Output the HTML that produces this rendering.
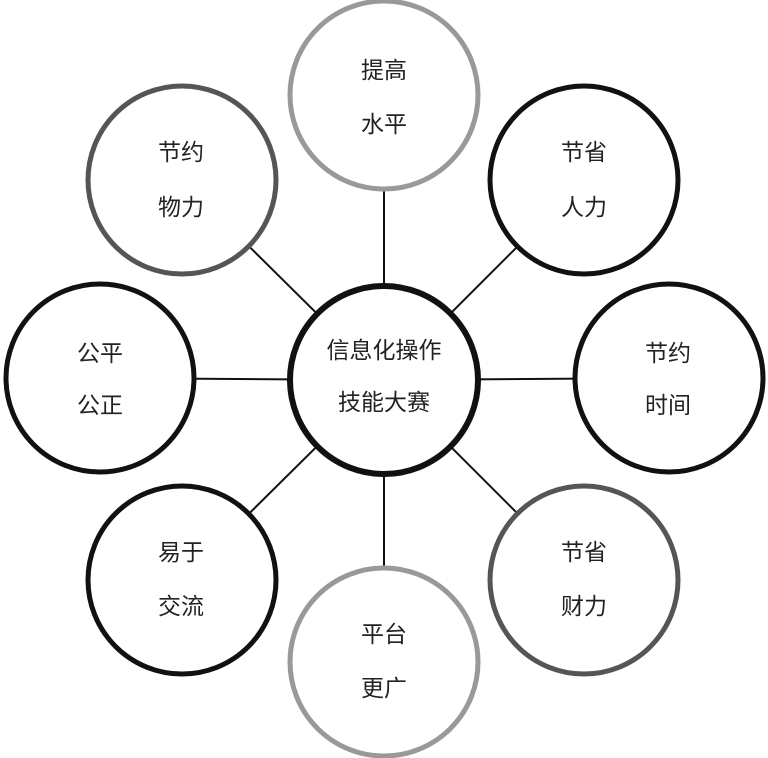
<!DOCTYPE html>
<html><head><meta charset="utf-8"><style>
html,body{margin:0;padding:0;background:#fff;}
svg{display:block;}
text{font-family:"Liberation Sans","Noto Sans CJK SC",sans-serif;font-size:23px;fill:#222;text-anchor:middle;dominant-baseline:central;}
</style></head><body>
<svg width="768" height="758" viewBox="0 0 768 758">
<g stroke="#111" stroke-width="2">
<line x1="384" y1="380" x2="384" y2="90"/>
<line x1="384" y1="380" x2="384" y2="668"/>
<line x1="384" y1="380" x2="100" y2="378"/>
<line x1="384" y1="380" x2="669" y2="378"/>
<line x1="384" y1="380" x2="182" y2="180"/>
<line x1="384" y1="380" x2="584" y2="180"/>
<line x1="384" y1="380" x2="182" y2="580"/>
<line x1="384" y1="380" x2="584" y2="580"/>
</g>
<g fill="#fff" stroke-width="5">
<circle cx="384" cy="95" r="94" stroke="#999"/>
<circle cx="182" cy="180" r="94" stroke="#555"/>
<circle cx="584" cy="180" r="94" stroke="#111"/>
<circle cx="100" cy="378" r="94" stroke="#111"/>
<circle cx="669" cy="378" r="94" stroke="#111"/>
<circle cx="182" cy="580" r="94" stroke="#111"/>
<circle cx="584" cy="580" r="94" stroke="#555"/>
<circle cx="384" cy="662" r="94" stroke="#999"/>
<circle cx="384" cy="380" r="94" stroke="#111" stroke-width="6"/>
</g>
<text x="384" y="70">提高</text><text x="384" y="124">水平</text>
<text x="181" y="152">节约</text><text x="181" y="207">物力</text>
<text x="584" y="152">节省</text><text x="584" y="207">人力</text>
<text x="100" y="353">公平</text><text x="100" y="405">公正</text>
<text x="668" y="353">节约</text><text x="668" y="405">时间</text>
<text x="384" y="350">信息化操作</text><text x="384" y="402">技能大赛</text>
<text x="181" y="552">易于</text><text x="181" y="606">交流</text>
<text x="584" y="552">节省</text><text x="584" y="606">财力</text>
<text x="384" y="634">平台</text><text x="384" y="688">更广</text>
</svg>
</body></html>
